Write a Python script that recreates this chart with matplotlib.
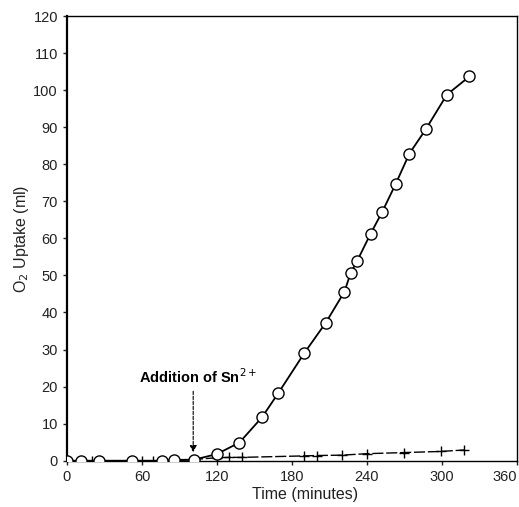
import matplotlib
matplotlib.use("Agg")
import matplotlib.pyplot as plt

plt.rcParams['font.family'] = ['Liberation Sans', 'DejaVu Sans']

# Sn2+ added: O2 uptake (circles)
t_circ = [0, 11, 26, 52, 76, 86, 102, 120, 138, 156, 169, 190, 207, 222, 227, 232, 243, 252, 263, 274, 287, 304, 322]
o2_circ = [0, 0, 0, 0, 0, 0.2, 0.3, 1.8, 4.9, 11.7, 18.2, 29.1, 37.2, 45.6, 50.7, 53.8, 61.3, 67.0, 74.7, 82.9, 89.4, 98.8, 103.7]

# control (crosses)
t_cross = [0, 20, 60, 69, 88, 120, 130, 140, 190, 200, 220, 240, 270, 299, 318]
o2_cross = [0, 0, 0, 0, 0, 0.8, 0.9, 0.9, 1.3, 1.4, 1.5, 1.9, 2.2, 2.5, 2.9]

x_ticks = [0, 60, 120, 180, 240, 300, 360]
y_ticks = list(range(0, 121, 10))

fig = plt.figure(figsize=(5.19, 5.07), dpi=100)
ax = fig.add_axes([0.129, 0.0913, 0.867, 0.877])

ax.plot(t_cross, o2_cross, color='black', lw=1.0, ls=(0, (8, 2)), marker='+',
        ms=7, mew=1.0, zorder=2)
ax.plot(t_circ, o2_circ, color='black', lw=1.3, marker='o', ms=8,
        mfc='white', mec='black', mew=1.0, zorder=3)

ax.set_xlim(0, 360)
ax.set_ylim(0, 120)
ax.set_xticks(x_ticks)
ax.set_yticks(y_ticks)
ax.tick_params(direction='out', length=3, width=1, labelsize=10.5, colors='#222222')
labels = ax.get_xticklabels()
labels[-1].set_horizontalalignment('right')
for s in ax.spines.values():
    s.set_linewidth(1.0)
ax.spines['left'].set_linewidth(1.6)

ax.set_xlabel('Time (minutes)', fontsize=11.5, color='#222222')
ax.xaxis.set_label_coords(0.53, -0.06)
ax.set_ylabel('O$_2$ Uptake (ml)', fontsize=11.5, labelpad=2, color='#222222')

ax.annotate('', xy=(101, 1.5), xytext=(101, 19.5),
            arrowprops=dict(arrowstyle='-|>', color='black', lw=0.8, ls=(0, (3, 1.5)),
                            mutation_scale=10))
ax.text(105, 22.8, 'Addition of Sn$^{2+}$', ha='center', va='center', fontsize=10.5,
        fontweight='bold')

fig.savefig('out.png', dpi=100)
